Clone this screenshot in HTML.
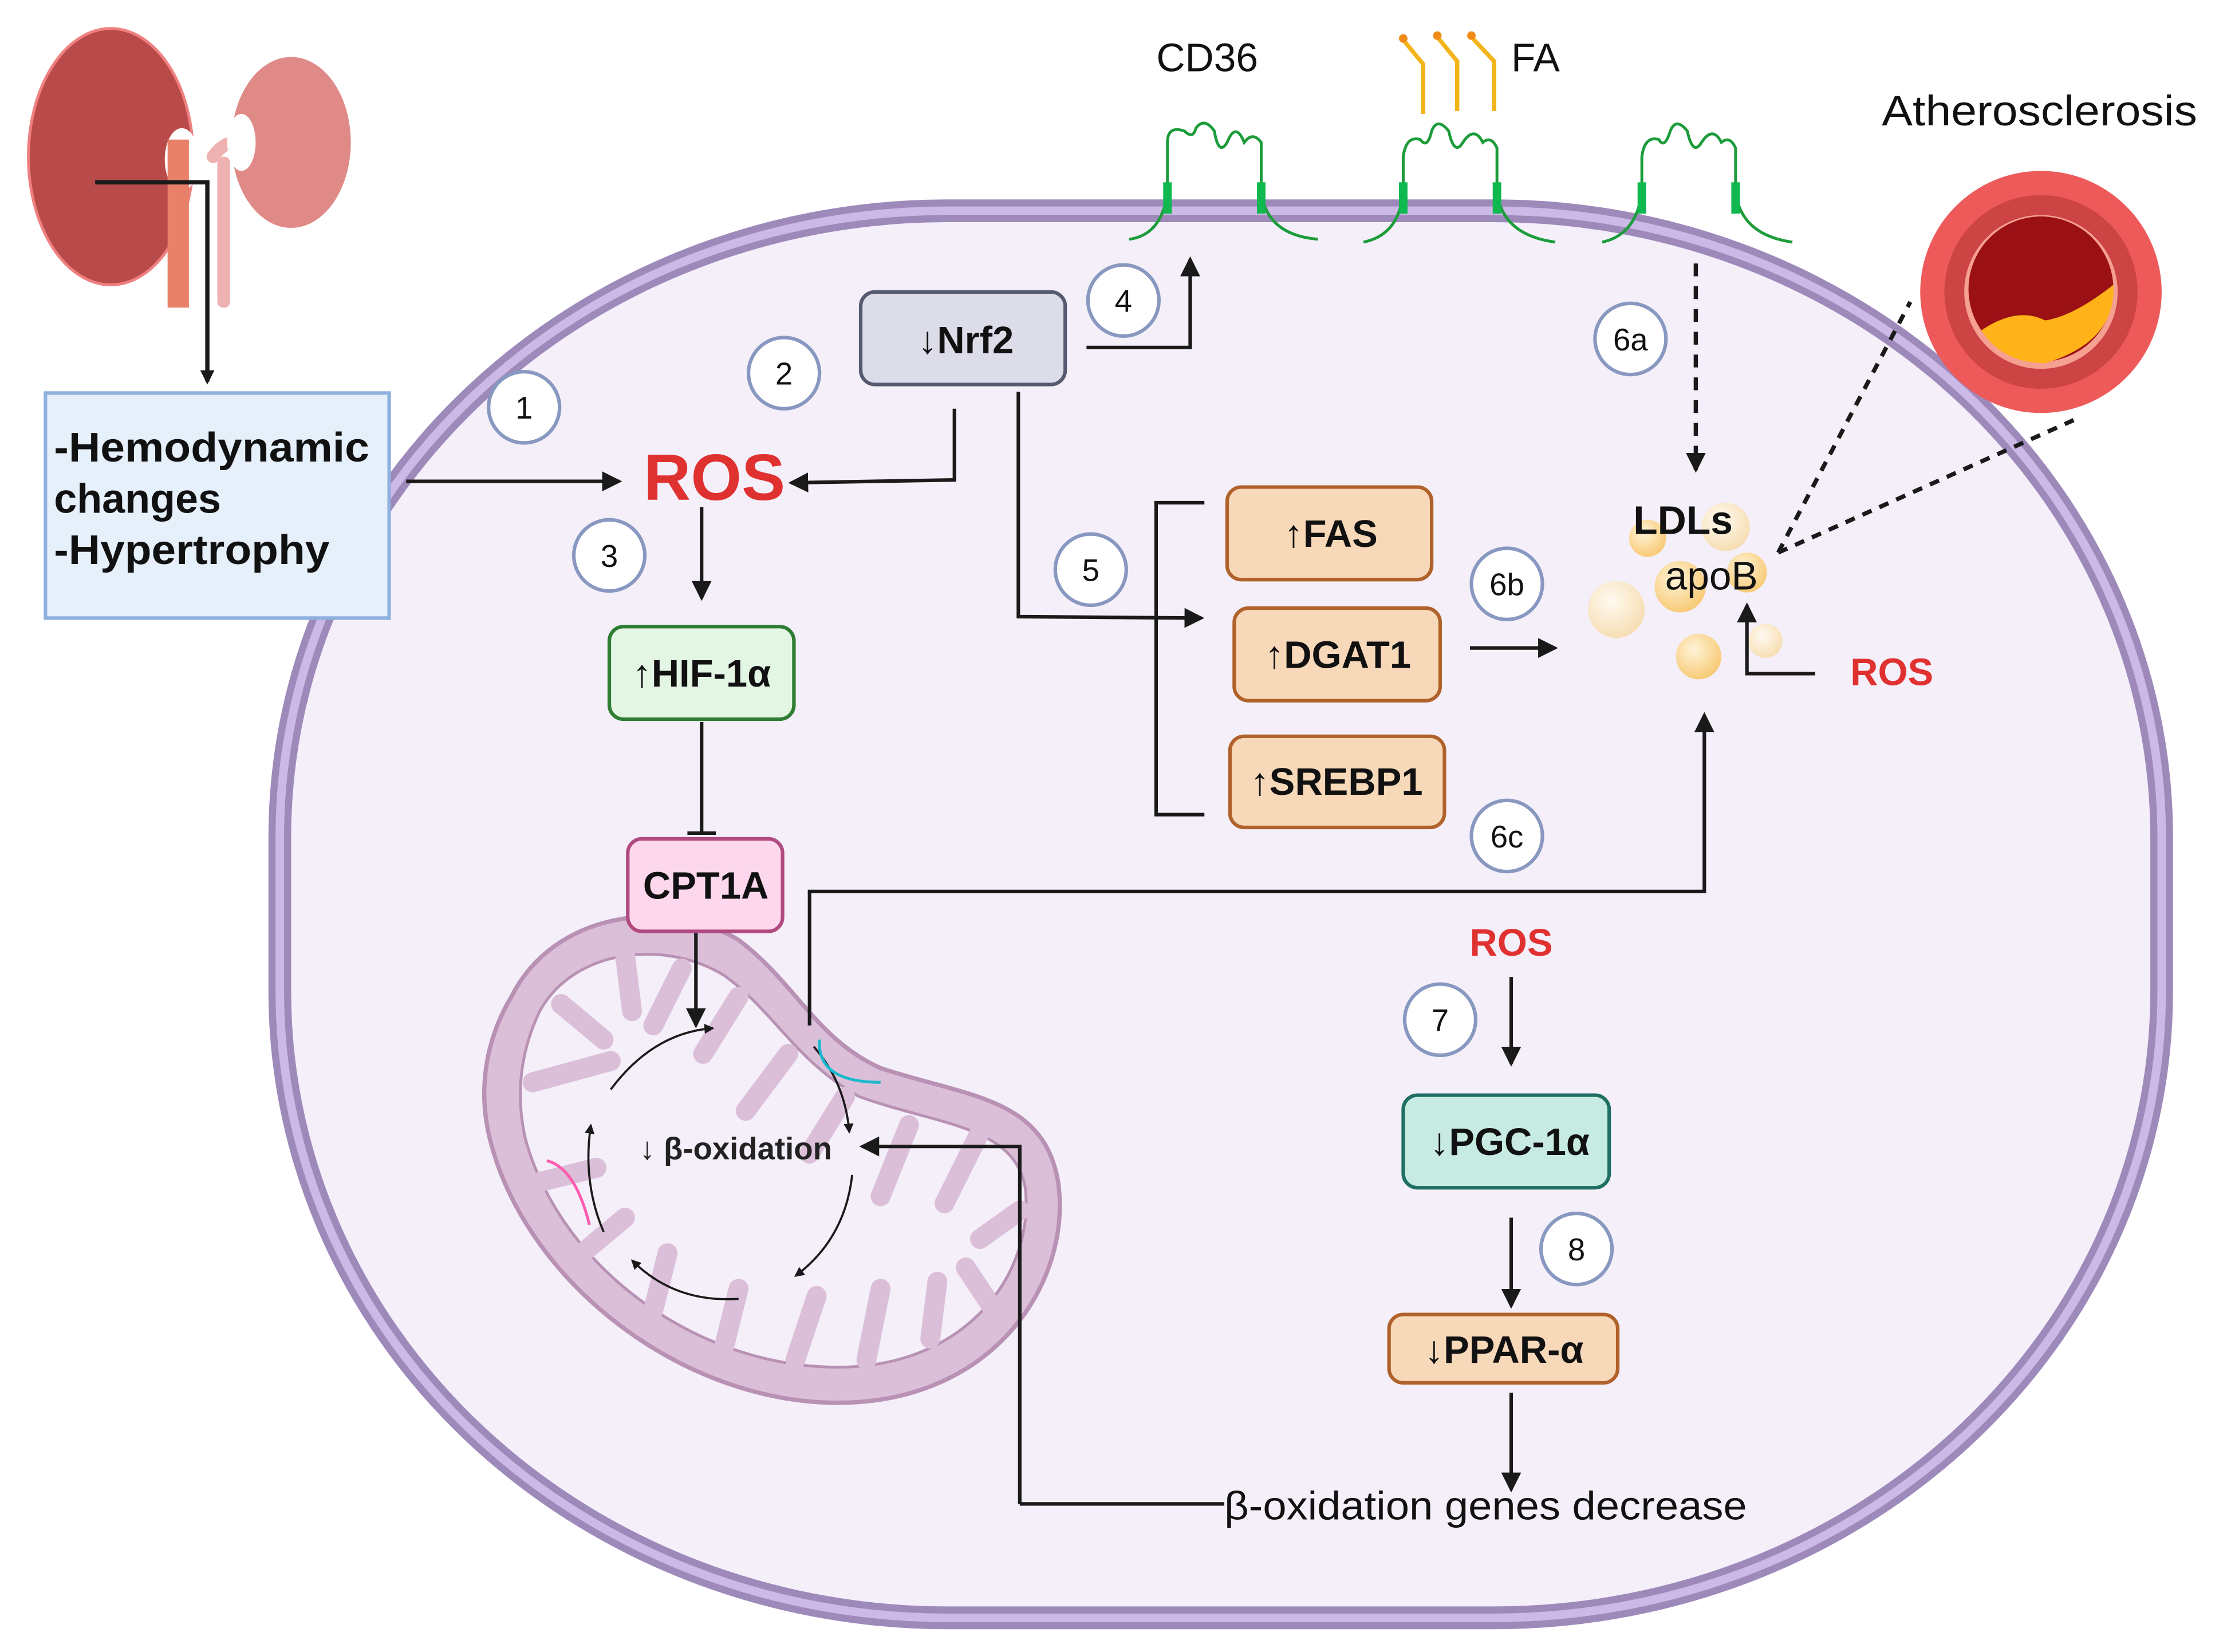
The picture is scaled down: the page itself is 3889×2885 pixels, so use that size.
<!DOCTYPE html>
<html><head><meta charset="utf-8"><style>
html,body{margin:0;padding:0;background:#fff;}
svg{display:block;}
text{font-family:"Liberation Sans",sans-serif;}
</style></head><body>
<svg width="3889" height="2885" viewBox="0 0 1568 1160" preserveAspectRatio="none" xmlns="http://www.w3.org/2000/svg">
<defs>
<marker id="ah" markerWidth="10" markerHeight="10" refX="8" refY="5" orient="auto" markerUnits="userSpaceOnUse"><path d="M0,0 L10,5 L0,10 z" fill="#1a1a1a"/></marker>
<marker id="ah2" markerWidth="14" markerHeight="14" refX="12" refY="7" orient="auto" markerUnits="userSpaceOnUse"><path d="M0,0 L14,7 L0,14 z" fill="#1a1a1a"/></marker>
<marker id="ahs" markerWidth="7" markerHeight="7" refX="6" refY="3.5" orient="auto" markerUnits="userSpaceOnUse"><path d="M0,0 L7,3.5 L0,7 z" fill="#1a1a1a"/></marker>
<radialGradient id="ldl" cx="0.4" cy="0.35" r="0.7"><stop offset="0" stop-color="#fff3d8"/><stop offset="1" stop-color="#f7c870"/></radialGradient>
<radialGradient id="ldl2" cx="0.4" cy="0.35" r="0.7"><stop offset="0" stop-color="#fffaf0"/><stop offset="1" stop-color="#f6dcb0"/></radialGradient>
</defs>

<!-- cell -->
<rect x="197" y="148" width="1325" height="988" rx="470" ry="440" fill="#f4eff9" stroke="#9d8abb" stroke-width="16"/>
<rect x="197" y="148" width="1325" height="988" rx="470" ry="440" fill="none" stroke="#cdb9e6" stroke-width="6"/>

<!-- kidneys -->
<ellipse cx="78" cy="110" rx="58" ry="90" fill="#b84b4a" stroke="#f08080" stroke-width="2"/>
<ellipse cx="128" cy="112" rx="12" ry="22" fill="#fff"/>
<rect x="118" y="98" width="15" height="118" fill="#e8806a"/>
<rect x="153" y="110" width="9" height="106" rx="4" fill="#eeb2b2"/>
<path d="M150,110 Q160,96 172,102" stroke="#eeb2b2" stroke-width="9" fill="none" stroke-linecap="round"/>
<ellipse cx="205" cy="100" rx="42" ry="60" fill="#e08a88"/>
<ellipse cx="170" cy="100" rx="10" ry="20" fill="#fff"/>
<path d="M67,128 H146 V268" stroke="#1a1a1a" stroke-width="3" fill="none" marker-end="url(#ah)"/>

<!-- hemodynamic box -->
<rect x="32" y="276" width="242" height="158" fill="#e6f0fb" stroke="#8fb0de" stroke-width="2.5"/>
<text x="38" y="324" font-size="29" font-weight="bold" fill="#111" textLength="222" lengthAdjust="spacingAndGlyphs">-Hemodynamic</text>
<text x="38" y="360" font-size="29" font-weight="bold" fill="#111">changes</text>
<text x="38" y="396" font-size="29" font-weight="bold" fill="#111" textLength="194" lengthAdjust="spacingAndGlyphs">-Hypertrophy</text>
<path d="M286,338 H436" stroke="#1a1a1a" stroke-width="2.5" fill="none" marker-end="url(#ah2)"/>

<!-- ROS -->
<text x="503" y="351" font-size="46" font-weight="bold" fill="#e03131" text-anchor="middle">ROS</text>
<path d="M672,287 V337 L557,339" stroke="#1a1a1a" stroke-width="2.5" fill="none" marker-end="url(#ah2)"/>
<path d="M494,356 V420" stroke="#1a1a1a" stroke-width="2.5" fill="none" marker-end="url(#ah2)"/>

<!-- Nrf2 -->
<rect x="606" y="205" width="144" height="65" rx="10" fill="#dcdde9" stroke="#555a70" stroke-width="2.5"/>
<text x="680" y="248" font-size="27" font-weight="bold" text-anchor="middle" fill="#111">↓Nrf2</text>
<path d="M765,244 H838 V182" stroke="#1a1a1a" stroke-width="2.5" fill="none" marker-end="url(#ah2)"/>
<path d="M717,275 V433 L846,434" stroke="#1a1a1a" stroke-width="2.5" fill="none" marker-end="url(#ah2)"/>

<!-- HIF -->
<rect x="429" y="440" width="130" height="65" rx="10" fill="#e3f5e3" stroke="#2e7d32" stroke-width="2.5"/>
<text x="494" y="482" font-size="27" font-weight="bold" text-anchor="middle" fill="#111">↑HIF-1α</text>
<path d="M494,507 V585 M484,585 H504" stroke="#1a1a1a" stroke-width="2.5" fill="none"/>

<!-- mitochondria -->
<path d="M360,700 C390,640 470,630 520,660 C560,690 575,730 620,750 C680,770 735,770 745,830 C755,900 700,985 590,985 C480,985 370,900 345,800 C335,760 345,725 360,700 Z" fill="#dbbfd8" stroke="#b891b4" stroke-width="3"/>
<path d="M380,710 C405,665 470,660 510,685 C545,710 560,745 605,770 C660,790 715,790 722,835 C728,895 680,960 590,960 C490,960 395,890 370,800 C362,765 368,735 380,710 Z" fill="#f4eff9" stroke="#b891b4" stroke-width="2"/>
<g stroke="#dbbfd8" stroke-width="14" stroke-linecap="round" fill="none">
<path d="M375,760 L430,745"/><path d="M395,705 L425,730"/><path d="M440,670 L445,710"/><path d="M480,680 L460,720"/>
<path d="M520,700 L495,740"/><path d="M555,740 L525,780"/><path d="M595,770 L570,810"/><path d="M640,790 L620,840"/>
<path d="M690,795 L665,845"/><path d="M718,850 L690,870"/><path d="M700,920 L680,890"/>
<path d="M380,830 L420,820"/><path d="M410,880 L440,855"/><path d="M460,920 L470,880"/><path d="M510,945 L520,905"/>
<path d="M560,955 L575,910"/><path d="M610,955 L620,905"/><path d="M655,940 L660,900"/>
</g>
<path d="M430,765 Q460,725 502,722" stroke="#1a1a1a" stroke-width="1.5" fill="none" marker-end="url(#ahs)"/>
<path d="M573,735 Q595,760 598,795" stroke="#1a1a1a" stroke-width="1.5" fill="none" marker-end="url(#ahs)"/>
<path d="M600,825 Q595,870 560,896" stroke="#1a1a1a" stroke-width="1.5" fill="none" marker-end="url(#ahs)"/>
<path d="M520,912 Q475,915 445,885" stroke="#1a1a1a" stroke-width="1.5" fill="none" marker-end="url(#ahs)"/>
<path d="M425,865 Q410,830 416,790" stroke="#1a1a1a" stroke-width="1.5" fill="none" marker-end="url(#ahs)"/>
<path d="M415,860 Q405,820 385,815" stroke="#ff5bb0" stroke-width="2" fill="none"/>
<path d="M577,730 Q575,760 620,760" stroke="#1ab8cc" stroke-width="2" fill="none"/>
<text x="518" y="814" font-size="22" font-weight="bold" text-anchor="middle" fill="#222">↓ β-oxidation</text>
<path d="M490,655 V720" stroke="#1a1a1a" stroke-width="2.5" fill="none" marker-end="url(#ah2)"/>
<path d="M718,1056 V805 H607" stroke="#1a1a1a" stroke-width="2.5" fill="none" marker-end="url(#ah2)"/>

<!-- CPT1A -->
<rect x="442" y="589" width="109" height="65" rx="10" fill="#fdd7ec" stroke="#b04a80" stroke-width="2.5"/>
<text x="497" y="631" font-size="27" font-weight="bold" text-anchor="middle" fill="#111">CPT1A</text>
<path d="M570,720 V626 H1200 V502" stroke="#1a1a1a" stroke-width="2.5" fill="none" marker-end="url(#ah2)"/>

<!-- bracket -->
<path d="M848,353 H814 V572 H848" stroke="#1a1a1a" stroke-width="2.5" fill="none"/>
<rect x="864" y="342" width="144" height="65" rx="10" fill="#f7d8b8" stroke="#b0622a" stroke-width="2.5"/>
<text x="937" y="384" font-size="27" font-weight="bold" text-anchor="middle" fill="#111">↑FAS</text>
<rect x="869" y="427" width="145" height="65" rx="10" fill="#f7d8b8" stroke="#b0622a" stroke-width="2.5"/>
<text x="942" y="469" font-size="27" font-weight="bold" text-anchor="middle" fill="#111">↑DGAT1</text>
<rect x="866" y="517" width="151" height="64" rx="10" fill="#f7d8b8" stroke="#b0622a" stroke-width="2.5"/>
<text x="941" y="558" font-size="27" font-weight="bold" text-anchor="middle" fill="#111">↑SREBP1</text>
<path d="M1035,455 H1095" stroke="#1a1a1a" stroke-width="2.5" fill="none" marker-end="url(#ah2)"/>

<!-- CD36 receptors -->
<g stroke="#1c9c3a" stroke-width="2" fill="none">
<path d="M795,168 Q818,165 822,135 V100 Q822,88 834,92 Q840,98 842,90 Q848,82 855,92 Q858,110 864,100 Q870,85 876,100 Q882,92 888,100 V135 Q892,165 928,168"/>
<path d="M960,170 Q985,165 988,135 V110 Q990,95 1000,98 Q1005,105 1008,92 Q1012,82 1020,92 Q1024,110 1030,100 Q1038,88 1044,100 Q1050,95 1054,104 V135 Q1058,165 1095,170"/>
<path d="M1128,170 Q1152,165 1156,135 V110 Q1158,95 1168,98 Q1172,105 1176,92 Q1180,82 1188,92 Q1192,110 1198,100 Q1206,88 1212,100 Q1218,95 1222,104 V135 Q1226,165 1262,170"/>
</g>
<g fill="#10b850"><rect x="819" y="128" width="6" height="22"/><rect x="885" y="128" width="6" height="22"/><rect x="985" y="128" width="6" height="22"/><rect x="1051" y="128" width="6" height="22"/><rect x="1153" y="128" width="6" height="22"/><rect x="1219" y="128" width="6" height="22"/></g>
<text x="850" y="50" font-size="28" text-anchor="middle" fill="#111">CD36</text>
<g stroke="#f2b418" stroke-width="3" fill="none"><path d="M988,28 L1002,45 V80"/><path d="M1012,26 L1026,43 V78"/><path d="M1036,26 L1052,43 V78"/></g>
<g fill="#f28a18"><circle cx="988" cy="27" r="3"/><circle cx="1012" cy="25" r="3"/><circle cx="1036" cy="25" r="3"/></g>
<text x="1064" y="50" font-size="28" fill="#111">FA</text>
<path d="M1194,185 V330" stroke="#1a1a1a" stroke-width="3" stroke-dasharray="9,7" fill="none" marker-end="url(#ah2)"/>

<!-- atherosclerosis -->
<text x="1436" y="88" font-size="30" text-anchor="middle" fill="#111" textLength="222" lengthAdjust="spacingAndGlyphs">Atherosclerosis</text>
<circle cx="1437" cy="205" r="85" fill="#ee5a5a"/>
<circle cx="1437" cy="205" r="68" fill="#cc4444"/>
<circle cx="1437" cy="205" r="54" fill="#f5a090"/>
<circle cx="1437" cy="203" r="51" fill="#9a1015"/>
<path d="M1395,232 Q1420,215 1440,225 Q1460,222 1488,200 Q1490,240 1440,255 Q1410,255 1395,232 Z" fill="#ffb318"/>
<path d="M1252,388 L1345,212 M1252,388 L1460,295" stroke="#1a1a1a" stroke-width="3" stroke-dasharray="7,6" fill="none"/>

<!-- LDLs -->
<circle cx="1215" cy="370" r="17" fill="url(#ldl2)"/>
<circle cx="1160" cy="378" r="13" fill="url(#ldl)"/>
<circle cx="1138" cy="428" r="20" fill="url(#ldl2)"/>
<circle cx="1183" cy="412" r="18" fill="url(#ldl)"/>
<circle cx="1230" cy="402" r="14" fill="url(#ldl)"/>
<circle cx="1196" cy="461" r="16" fill="url(#ldl)"/>
<circle cx="1243" cy="450" r="12" fill="url(#ldl2)"/>
<text x="1185" y="375" font-size="28" font-weight="bold" text-anchor="middle" fill="#111">LDLs</text>
<text x="1205" y="414" font-size="28" text-anchor="middle" fill="#111">apoB</text>
<path d="M1278,473 H1230 V425" stroke="#1a1a1a" stroke-width="2.5" fill="none" marker-end="url(#ah2)"/>
<text x="1332" y="481" font-size="27" font-weight="bold" text-anchor="middle" fill="#e03131">ROS</text>

<!-- right-bottom pathway -->
<text x="1064" y="671" font-size="27" font-weight="bold" text-anchor="middle" fill="#e03131">ROS</text>
<path d="M1064,686 V747" stroke="#1a1a1a" stroke-width="2.5" fill="none" marker-end="url(#ah2)"/>
<rect x="988" y="769" width="145" height="65" rx="10" fill="#c7ebe3" stroke="#1f6f62" stroke-width="2.5"/>
<text x="1063" y="811" font-size="27" font-weight="bold" text-anchor="middle" fill="#111">↓PGC-1α</text>
<path d="M1064,855 V917" stroke="#1a1a1a" stroke-width="2.5" fill="none" marker-end="url(#ah2)"/>
<rect x="978" y="923" width="161" height="48" rx="10" fill="#f7d8b8" stroke="#b0622a" stroke-width="2.5"/>
<text x="1059" y="957" font-size="27" font-weight="bold" text-anchor="middle" fill="#111">↓PPAR-α</text>
<path d="M1064,978 V1046" stroke="#1a1a1a" stroke-width="2.5" fill="none" marker-end="url(#ah2)"/>
<path d="M718,1056 H862" stroke="#1a1a1a" stroke-width="2.5" fill="none"/>
<text x="862" y="1067" font-size="28" fill="#111" textLength="368" lengthAdjust="spacingAndGlyphs">β-oxidation genes decrease</text>

<!-- numbered circles -->
<g fill="#fff" stroke="#8898c0" stroke-width="2.5">
<circle cx="369" cy="286" r="25"/><circle cx="552" cy="262" r="25"/><circle cx="429" cy="390" r="25"/>
<circle cx="791" cy="211" r="25"/><circle cx="768" cy="400" r="25"/><circle cx="1148" cy="238" r="25"/>
<circle cx="1061" cy="410" r="25"/><circle cx="1061" cy="587" r="25"/><circle cx="1014" cy="716" r="25"/>
<circle cx="1110" cy="877" r="25"/>
</g>
<g font-size="22" text-anchor="middle" fill="#111">
<text x="369" y="294">1</text><text x="552" y="270">2</text><text x="429" y="398">3</text>
<text x="791" y="219">4</text><text x="768" y="408">5</text><text x="1148" y="246">6a</text>
<text x="1061" y="418">6b</text><text x="1061" y="595">6c</text><text x="1014" y="724">7</text>
<text x="1110" y="885">8</text>
</g>
</svg>
</body></html>
